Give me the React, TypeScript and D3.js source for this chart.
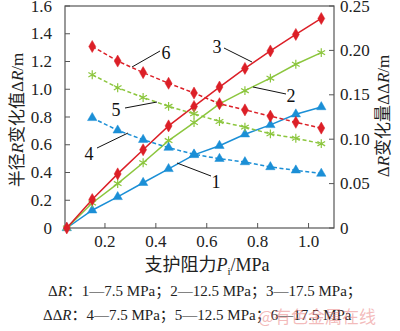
import React from "react";
import * as d3 from "d3";

const xs = [0.05, 0.15, 0.25, 0.35, 0.45, 0.55, 0.65, 0.75, 0.85, 0.95, 1.05];
const dR1 = [0, 0.128, 0.224, 0.326, 0.426, 0.527, 0.593, 0.676, 0.743, 0.82, 0.872];
const dR2 = [0, 0.18, 0.32, 0.47, 0.63, 0.76, 0.895, 0.99, 1.08, 1.18, 1.264];
const dR3 = [0, 0.205, 0.39, 0.564, 0.736, 0.876, 1.016, 1.15, 1.276, 1.395, 1.51];
const xs2 = [0.15, 0.25, 0.35, 0.45, 0.55, 0.65, 0.75, 0.85, 0.95, 1.05];
const ddR4 = [0.124, 0.11, 0.0994, 0.0905, 0.083, 0.078, 0.0743, 0.0687, 0.065, 0.0613];
const ddR5 = [0.1726, 0.158, 0.147, 0.137, 0.1286, 0.12, 0.1136, 0.106, 0.101, 0.095];
const ddR6 = [0.2044, 0.188, 0.175, 0.163, 0.152, 0.14, 0.133, 0.126, 0.119, 0.1125];
const xTicks = [0.2, 0.4, 0.6, 0.8, 1.0];
const yTicks = [0, 0.2, 0.4, 0.6, 0.8, 1.0, 1.2, 1.4, 1.6];
const y2Ticks = [0, 0.05, 0.1, 0.15, 0.2, 0.25];

const RED = "#dc1f27";
const GREEN = "#8cc63e";
const BLUE = "#1b8fd6";
const SERIF = "'Liberation Serif', 'Times New Roman', serif";
const CJK = "'Liberation Serif', 'Noto Sans CJK SC', serif";

export default function App() {
  const L = 65, R = 334, T = 6, B = 228;
  const x = d3.scaleLinear().domain([0.043, 1.1]).range([L, R]);
  const y = d3.scaleLinear().domain([0, 1.6]).range([B, T]);
  const y2 = d3.scaleLinear().domain([0, 0.25]).range([B, T]);

  const series = [
    { xv: xs, v: dR1, sc: y, color: BLUE, sym: "tri", dash: null },
    { xv: xs, v: dR2, sc: y, color: GREEN, sym: "ast", dash: null },
    { xv: xs, v: dR3, sc: y, color: RED, sym: "dia", dash: null },
    { xv: xs2, v: ddR4, sc: y2, color: BLUE, sym: "tri", dash: "4,2.5" },
    { xv: xs2, v: ddR5, sc: y2, color: GREEN, sym: "ast", dash: "4,2.5" },
    { xv: xs2, v: ddR6, sc: y2, color: RED, sym: "dia", dash: "4,2.5" },
  ];

  const symPath = (s: string) => {
    if (s === "tri") return d3.symbol(d3.symbolTriangle, 38)()!;
    if (s === "dia") return d3.symbol(d3.symbolDiamond, 42)()!;
    return d3.symbol(d3.symbolAsterisk, 55)()!;
  };

  const labels = [
    { t: "1", tx: 216, ty: 188, x1: 177, y1: 163, x2: 211, y2: 176 },
    { t: "2", tx: 291, ty: 102, x1: 253, y1: 87, x2: 286, y2: 94 },
    { t: "3", tx: 217, ty: 53, x1: 224, y1: 48, x2: 252, y2: 62 },
    { t: "4", tx: 89, ty: 160, x1: 97, y1: 148, x2: 128, y2: 133 },
    { t: "5", tx: 116, ty: 116, x1: 125, y1: 108, x2: 157, y2: 102 },
    { t: "6", tx: 166, ty: 59, x1: 132, y1: 67, x2: 160, y2: 51 },
  ];

  return (
    <svg width={400} height={331} style={{ position: "absolute", left: 0, top: 0, background: "#fff" }}>
      <rect x={0} y={0} width={400} height={331} fill="#fff" />
      <rect x={L} y={T} width={R - L} height={B - T} fill="none" stroke="#555" strokeWidth={1.2} />
      {yTicks.map((t) => (
        <g key={"y" + t}>
          <line x1={L} x2={L + 5} y1={y(t)} y2={y(t)} stroke="#555" />
          <text x={52} y={y(t) + 5.5} textAnchor="end" fontFamily={SERIF} fontSize={17} fill="#222">
            {t === 0 ? "0" : t.toFixed(1)}
          </text>
        </g>
      ))}
      {y2Ticks.map((t) => (
        <g key={"y2" + t}>
          <line x1={R - 5} x2={R} y1={y2(t)} y2={y2(t)} stroke="#555" />
          <text x={340} y={y2(t) + 5.5} textAnchor="start" fontFamily={SERIF} fontSize={17} fill="#222">
            {t === 0 ? "0" : t.toFixed(2)}
          </text>
        </g>
      ))}
      {xTicks.map((t) => (
        <g key={"x" + t}>
          <line x1={x(t)} x2={x(t)} y1={B} y2={B - 5} stroke="#555" />
          <text x={x(t)} y={247} textAnchor="middle" fontFamily={SERIF} fontSize={17} fill="#222">
            {t.toFixed(1)}
          </text>
        </g>
      ))}
      {series.map((s, i) => {
        const line = d3
          .line<number>()
          .x((_, j) => x(s.xv[j]))
          .y((d) => s.sc(d));
        return (
          <g key={"s" + i}>
            <path d={line(s.v)!} fill="none" stroke={s.color} strokeWidth={1.5} strokeDasharray={s.dash || undefined} />
            {s.v.map((d, j) => (
              <path
                key={j}
                d={symPath(s.sym)}
                transform={`translate(${x(s.xv[j])},${s.sc(d)})`}
                fill={s.sym === "ast" ? "none" : s.color}
                stroke={s.color}
                strokeWidth={s.sym === "ast" ? 1.2 : 0.5}
              />
            ))}
          </g>
        );
      })}
      {labels.map((l) => (
        <g key={l.t}>
          <line x1={l.x1} y1={l.y1} x2={l.x2} y2={l.y2} stroke="#111" strokeWidth={1} />
          <text x={l.tx} y={l.ty} fontFamily={SERIF} fontSize={18} fill="#111" textAnchor="middle">
            {l.t}
          </text>
        </g>
      ))}
      <text transform="translate(23,120) rotate(-90)" textAnchor="middle" fontFamily={CJK} fontSize={17} fill="#222">
        半径<tspan fontStyle="italic">R</tspan>变化值Δ<tspan fontStyle="italic">R</tspan>/m
      </text>
      <text transform="translate(389,116) rotate(-90)" textAnchor="middle" fontFamily={CJK} fontSize={17} fill="#222">
        Δ<tspan fontStyle="italic">R</tspan>变化量ΔΔ<tspan fontStyle="italic">R</tspan>/m
      </text>
      <text x={207} y={271} textAnchor="middle" fontFamily={CJK} fontSize={18} fill="#222">
        支护阻力<tspan fontStyle="italic">P</tspan>
        <tspan fontSize={11} dy={4}>i</tspan>
        <tspan dy={-4}>/MPa</tspan>
      </text>
      <text x={48} y={296} fontFamily={CJK} fontSize={15} fill="#222">
        Δ<tspan fontStyle="italic">R</tspan>：1—7.5 MPa；2—12.5 MPa；3—17.5 MPa；
      </text>
      <text x={43} y={320} fontFamily={CJK} fontSize={15} fill="#222">
        ΔΔ<tspan fontStyle="italic">R</tspan>：4—7.5 MPa；5—12.5 MPa；6—17.5 MPa
      </text>
      <text x={258} y={323} fontFamily="'Noto Sans CJK SC', sans-serif" fontSize={17} fill="#e87878" fillOpacity={0.5}>
        @有色金属在线
      </text>
    </svg>
  );
}
